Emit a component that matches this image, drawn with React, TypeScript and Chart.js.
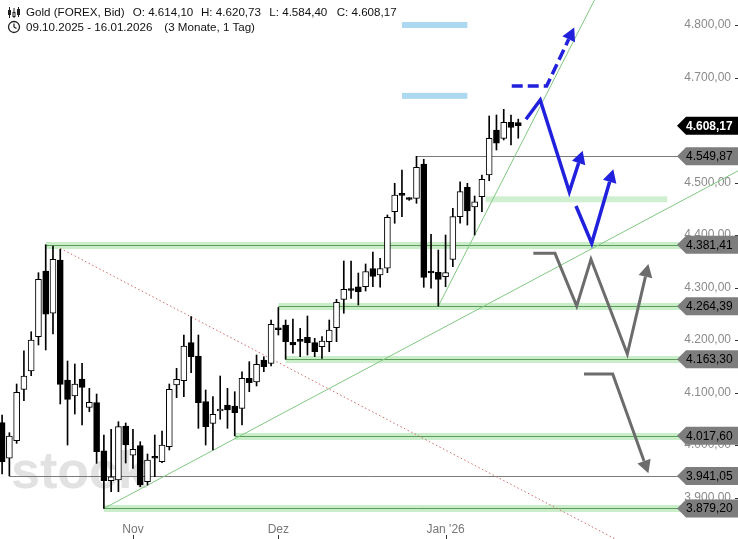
import React, { useEffect, useRef } from 'react';
import { Chart, registerables } from 'chart.js';
Chart.register(...registerables);

// ---- candle data (trading-day index 0..71) ----
const opens = [4042.5, 3974.7, 4008.2, 4106.1, 4141.0, 4206.3, 4331.4, 4250.9, 4352.4, 4123.8, 4093.3, 4125.7, 4071.8, 4080.6, 3989.1, 3932.0, 3933.3, 4036.2, 3980.4, 3998.7, 3930.1, 3977.7, 3968.2, 3996.8, 4114.3, 4122.5, 4194.9, 4169.5, 4082.5, 4041.3, 4064.8, 4076.2, 4074.3, 4069.9, 4127.0, 4120.0, 4161.9, 4155.6, 4222.3, 4228.6, 4195.6, 4201.3, 4205.1, 4194.9, 4187.2, 4196.8, 4223.4, 4277.5, 4297.1, 4301.5, 4301.5, 4336.2, 4323.8, 4336.6, 4444.4, 4479.4, 4469.9, 4469.9, 4535.2, 4330.1, 4329.0, 4320.6, 4353.7, 4434.9, 4490.9, 4453.3, 4472.9, 4514.3, 4600.0, 4584.2, 4614.7, 4614.10];
const highs = [4057.1, 4023.4, 4116.2, 4179.6, 4215.8, 4328.2, 4381.41, 4379.0, 4372.8, 4160.0, 4154.3, 4155.6, 4108.0, 4097.1, 4019.0, 4029.9, 4044.4, 4041.9, 4029.9, 4006.3, 3982.9, 4019.0, 4026.7, 4116.2, 4146.1, 4209.5, 4244.4, 4209.5, 4104.8, 4092.0, 4131.4, 4108.0, 4101.5, 4139.6, 4158.7, 4171.4, 4168.2, 4238.1, 4262.0, 4238.1, 4240.0, 4222.3, 4245.7, 4203.2, 4206.3, 4238.1, 4277.5, 4350.5, 4350.5, 4327.6, 4344.8, 4367.6, 4355.6, 4438.1, 4498.5, 4523.8, 4471.0, 4549.87, 4544.2, 4401.3, 4371.4, 4400.0, 4450.9, 4501.5, 4498.5, 4474.3, 4514.3, 4626.7, 4628.6, 4639.4, 4628.6, 4620.73];
const lows = [3945.0, 3941.05, 4003.2, 4084.4, 4132.0, 4190.5, 4181.0, 4211.4, 4078.1, 4000.0, 4059.0, 4038.1, 4063.4, 3965.1, 3879.2, 3911.0, 3911.0, 3965.7, 3955.6, 3920.6, 3923.8, 3939.6, 3966.3, 3990.5, 4090.1, 4092.0, 4137.7, 4031.8, 4000.0, 3990.5, 4049.0, 4031.8, 4017.6, 4038.1, 4101.5, 4112.4, 4139.6, 4150.5, 4209.5, 4163.3, 4174.7, 4168.2, 4171.4, 4168.2, 4165.1, 4177.7, 4196.8, 4250.9, 4279.4, 4266.7, 4293.3, 4301.5, 4300.4, 4328.2, 4422.3, 4434.9, 4466.0, 4460.4, 4300.4, 4298.5, 4264.39, 4301.5, 4339.6, 4422.3, 4419.0, 4400.0, 4444.4, 4503.4, 4561.9, 4581.0, 4571.4, 4584.40];
const closes = [3968.2, 4017.1, 4100.4, 4131.4, 4200.0, 4315.6, 4249.0, 4353.7, 4115.6, 4087.0, 4116.2, 4109.9, 4081.3, 3987.2, 3932.0, 3939.6, 4034.9, 4000.0, 3991.8, 3923.8, 3971.4, 3974.7, 4000.0, 4106.1, 4125.1, 4188.6, 4168.2, 4080.6, 4034.9, 4058.5, 4068.6, 4066.7, 4061.5, 4127.0, 4118.7, 4153.7, 4149.1, 4229.9, 4219.6, 4196.8, 4190.5, 4197.5, 4194.9, 4177.7, 4198.1, 4219.0, 4271.8, 4296.6, 4294.3, 4292.0, 4330.5, 4321.0, 4336.2, 4433.7, 4476.2, 4475.5, 4467.6, 4529.0, 4319.4, 4327.6, 4315.6, 4328.2, 4434.9, 4482.5, 4445.7, 4463.4, 4506.1, 4584.2, 4574.7, 4614.7, 4605.1, 4608.17];

// ---- axes ----
const yTicks = [3900, 4000, 4100, 4200, 4300, 4400, 4500, 4600, 4700, 4800];
const xTickIdx = [18, 38, 61];
const xTickLabels = ['Nov', 'Dez', "Jan '26"];

// ---- horizontal levels: price, start index, kind ----
const levelPrices = [4549.87, 4381.41, 4264.39, 4163.30, 4017.60, 3941.05, 3879.20];
const levelStart = [57, 6, 38, 39, 32, 1, 14];
const levelKind = ['line', 'band', 'band', 'band', 'band', 'line', 'band'];
const zonePrice = [4468];
const zoneFrom = [66.5];
const zoneTo = [91.5];
const lastPrice = 4608.17;

// ---- light blue target marks ----
const targetPrices = [4800, 4665];
const targetFrom = 55;
const targetTo = 64;

// ---- trend lines [idx, price] ----
const steepLine = [[60, 4264.39], [82, 4861.5]];
const longLine = [[14, 3879.2], [101.5, 4524.2]];
const dottedLine = [[8, 4374.6], [86, 3809]];

// ---- projections [idx, price] (last point = arrow tip) ----
const blueDashed = [[70.1, 4683.8], [74.9, 4683.8], [78.7, 4795.2]];
const blueA = [[72.06, 4620.4], [74.02, 4657.1], [78.02, 4482.5], [79.86, 4560.6]];
const blueB = [[78.94, 4455.2], [81.1, 4384.2], [84.07, 4525.1]];
const greyA = [[73.07, 4365.1], [76.05, 4365.1], [79.04, 4264.7], [81.0, 4353.7], [86.0, 4173.3], [88.9, 4344.8]];
const greyB = [[80.04, 4135.2], [83.99, 4135.2], [88.9, 3946.1]];

const fmt = (v: number) => {
  const [i, d] = v.toFixed(2).split('.');
  return i.replace(/\B(?=(\d{3})+(?!\d))/g, '.') + ',' + d;
};

const FONT = '"Liberation Sans", Arial, sans-serif';

function drawPath(ctx: CanvasRenderingContext2D, pts: number[][], X: any, Y: any, color: string, width: number, dash: number[] = [], arrow = true) {
  const p = pts.map(([i, v]) => [X(i), Y(v)]);
  const n = p.length;
  const tip = p[n - 1];
  const prev = p[n - 2];
  const dx = tip[0] - prev[0], dy = tip[1] - prev[1];
  const L = Math.hypot(dx, dy);
  const ux = dx / L, uy = dy / L;
  const al = 13, hw = 7;
  const base = [tip[0] - ux * al, tip[1] - uy * al];
  ctx.save();
  ctx.strokeStyle = color;
  ctx.lineWidth = width;
  ctx.lineJoin = 'miter';
  ctx.setLineDash(dash);
  ctx.beginPath();
  ctx.moveTo(p[0][0], p[0][1]);
  for (let k = 1; k < n - 1; k++) ctx.lineTo(p[k][0], p[k][1]);
  ctx.lineTo(arrow ? base[0] : tip[0], arrow ? base[1] : tip[1]);
  ctx.stroke();
  ctx.setLineDash([]);
  if (arrow) {
    ctx.fillStyle = color;
    ctx.beginPath();
    ctx.moveTo(tip[0], tip[1]);
    ctx.lineTo(base[0] - uy * hw, base[1] + ux * hw);
    ctx.lineTo(base[0] + uy * hw, base[1] - ux * hw);
    ctx.closePath();
    ctx.fill();
  }
  ctx.restore();
}

function drawTag(ctx: CanvasRenderingContext2D, cy: number, text: string, bg: string, fg: string, bold: boolean, W: number) {
  ctx.save();
  ctx.fillStyle = bg;
  ctx.beginPath();
  ctx.moveTo(677, cy);
  ctx.lineTo(686, cy - 9);
  ctx.lineTo(W, cy - 9);
  ctx.lineTo(W, cy + 9);
  ctx.lineTo(686, cy + 9);
  ctx.closePath();
  ctx.fill();
  ctx.fillStyle = fg;
  ctx.font = (bold ? 'bold ' : '') + '12px ' + FONT;
  ctx.textBaseline = 'middle';
  ctx.textAlign = 'left';
  ctx.fillText(text, 686, cy + 0.5);
  ctx.restore();
}

const overlayPlugin = {
  id: 'overlay',
  beforeDatasetsDraw(chart: any) {
    const { ctx, chartArea, scales } = chart;
    const X = (i: number) => scales.x.getPixelForValue(i);
    const Y = (v: number) => scales.y.getPixelForValue(v);
    ctx.save();
    // watermark
    ctx.font = 'bold 52px ' + FONT;
    ctx.fillStyle = '#e2e2e2';
    ctx.textBaseline = 'alphabetic';
    ctx.fillText('stock', 11, 488);
    // zone band
    zonePrice.forEach((p, k) => {
      ctx.fillStyle = 'rgba(150,220,150,0.45)';
      ctx.fillRect(X(zoneFrom[k]), Y(p) - 3, X(zoneTo[k]) - X(zoneFrom[k]), 6);
    });
    // levels
    levelPrices.forEach((p, k) => {
      const x0 = X(levelStart[k]);
      const y0 = Math.round(Y(p)) + 0.5;
      if (levelKind[k] === 'band') {
        ctx.fillStyle = 'rgba(150,220,150,0.5)';
        ctx.fillRect(x0, y0 - 3.5, chartArea.right - x0, 7);
        ctx.strokeStyle = '#5e9c5e';
      } else {
        ctx.strokeStyle = '#7a7a7a';
      }
      ctx.lineWidth = 1;
      ctx.beginPath();
      ctx.moveTo(x0, y0);
      ctx.lineTo(chartArea.right, y0);
      ctx.stroke();
    });
    // target marks
    targetPrices.forEach((p) => {
      ctx.fillStyle = '#acd9f1';
      ctx.fillRect(X(targetFrom), Y(p) - 3, X(targetTo) - X(targetFrom), 6);
    });
    // trend lines
    ctx.lineWidth = 1;
    ctx.strokeStyle = '#80c880';
    [steepLine, longLine].forEach((l) => {
      ctx.beginPath();
      ctx.moveTo(X(l[0][0]), Y(l[0][1]));
      ctx.lineTo(X(l[1][0]), Y(l[1][1]));
      ctx.stroke();
    });
    ctx.strokeStyle = '#d06a6a';
    ctx.setLineDash([1.5, 2.5]);
    ctx.beginPath();
    ctx.moveTo(X(dottedLine[0][0]), Y(dottedLine[0][1]));
    ctx.lineTo(X(dottedLine[1][0]), Y(dottedLine[1][1]));
    ctx.stroke();
    ctx.restore();
  },
  afterDraw(chart: any) {
    const { ctx, scales, width, height } = chart;
    const X = (i: number) => scales.x.getPixelForValue(i);
    const Y = (v: number) => scales.y.getPixelForValue(v);
    const blue = '#2121dd';
    const grey = '#6c6c6c';
    drawPath(ctx, blueDashed, X, Y, blue, 3.5, [11, 5]);
    drawPath(ctx, blueA, X, Y, blue, 3.5);
    drawPath(ctx, blueB, X, Y, blue, 3.5);
    drawPath(ctx, greyA, X, Y, grey, 3);
    drawPath(ctx, greyB, X, Y, grey, 3);
    // y tick dashes and x tick marks
    ctx.save();
    ctx.strokeStyle = '#333';
    ctx.lineWidth = 1;
    yTicks.forEach((v) => {
      const yy = Math.round(Y(v)) + 0.5;
      ctx.beginPath();
      ctx.moveTo(width - 3, yy);
      ctx.lineTo(width, yy);
      ctx.stroke();
    });
    xTickIdx.forEach((i) => {
      const xx = Math.round(X(i)) + 0.5;
      ctx.beginPath();
      ctx.moveTo(xx, height - 4);
      ctx.lineTo(xx, height);
      ctx.stroke();
    });
    ctx.restore();
    // tags
    levelPrices.forEach((p) => drawTag(ctx, Y(p), fmt(p), '#7d7d7d', '#000', false, width));
    drawTag(ctx, Y(lastPrice), fmt(lastPrice), '#000', '#fff', true, width);
  },
};

const PX = 7.27;
const Y_AXIS_W = 7;
const X_MIN = -2.1 / PX;
const X_MAX = X_MIN + (738 - Y_AXIS_W) / PX;

export default function App() {
  const ref = useRef<HTMLCanvasElement>(null);
  useEffect(() => {
    Chart.defaults.font.family = FONT;
    const idx = opens.map((_, i) => i);
    const up = idx.map((i) => closes[i] >= opens[i]);
    const chart = new Chart(ref.current!, {
      type: 'bar',
      data: {
        datasets: [
          {
            label: 'wick',
            data: idx.map((i) => ({ x: i, y: [lows[i], highs[i]] })) as any,
            backgroundColor: '#000',
            borderWidth: 0,
            barThickness: 1,
            grouped: false,
            order: 2,
          } as any,
          {
            label: 'body',
            data: idx.map((i) => ({ x: i, y: [opens[i], closes[i]] })) as any,
            backgroundColor: idx.map((i) => (up[i] ? '#fff' : '#000')),
            borderColor: '#000',
            borderWidth: 1,
            borderSkipped: false,
            barThickness: 6,
            minBarLength: 2,
            grouped: false,
            order: 1,
          } as any,
        ],
      },
      options: {
        responsive: false,
        animation: false,
        events: [],
        layout: { padding: 0 },
        plugins: { legend: { display: false }, tooltip: { enabled: false } },
        scales: {
          x: {
            type: 'linear',
            min: X_MIN,
            max: X_MAX,
            offset: false,
            afterBuildTicks: (s: any) => {
              s.ticks = xTickIdx.map((v) => ({ value: v }));
            },
            afterFit: (s: any) => {
              s.height = 20;
              s.paddingLeft = 0;
              s.paddingRight = 0;
            },
            ticks: {
              callback: (v: any) => xTickLabels[xTickIdx.indexOf(Number(v))] ?? '',
              color: '#777',
              font: { size: 12 },
              padding: 3,
              maxRotation: 0,
              autoSkip: false,
            },
            grid: { display: false, drawTicks: false },
            border: { display: false },
          },
          y: {
            type: 'linear',
            position: 'right',
            min: 3859.05,
            max: 4847.62,
            afterBuildTicks: (s: any) => {
              s.ticks = yTicks.map((v) => ({ value: v }));
            },
            afterFit: (s: any) => {
              s.width = Y_AXIS_W;
              s.paddingTop = 0;
              s.paddingBottom = 0;
            },
            ticks: {
              mirror: true,
              padding: 0,
              color: '#8a8a8a',
              font: { size: 12 },
              callback: (v: any) => fmt(Number(v)),
            },
            grid: { display: false, drawTicks: false },
            border: { display: false },
          },
        },
      } as any,
      plugins: [overlayPlugin],
    });
    return () => chart.destroy();
  }, []);

  const txt: React.CSSProperties = {
    position: 'absolute',
    fontFamily: FONT,
    fontSize: '11.6px',
    lineHeight: '14px',
    color: '#111',
    whiteSpace: 'nowrap',
  };
  return (
    <div style={{ position: 'fixed', left: 0, top: 0, width: 738, height: 539, background: '#fff', overflow: 'hidden' }}>
      <canvas ref={ref} width={738} height={539} style={{ position: 'absolute', left: 0, top: 0 }} />
      <svg style={{ position: 'absolute', left: 7, top: 6 }} width={14} height={13} viewBox="0 0 14 13">
        <g stroke="#222" strokeWidth={1} fill="none">
          <line x1={2.5} y1={1} x2={2.5} y2={12} />
          <rect x={1.5} y={4.5} width={2} height={4} fill="#222" />
          <line x1={7} y1={2} x2={7} y2={12} />
          <rect x={6} y={6.5} width={2} height={4} fill="#fff" />
          <line x1={11.5} y1={1} x2={11.5} y2={11} />
          <rect x={10.5} y={3.5} width={2} height={5} fill="#222" />
        </g>
      </svg>
      <svg style={{ position: 'absolute', left: 7, top: 20 }} width={14} height={14} viewBox="0 0 14 14">
        <circle cx={7} cy={7} r={5.5} stroke="#222" strokeWidth={1.3} fill="none" />
        <polyline points="7,3.5 7,7 9.5,8.5" stroke="#222" strokeWidth={1.2} fill="none" />
      </svg>
      <span style={{ ...txt, left: 26, top: 5 }}>Gold (FOREX, Bid)</span>
      <span style={{ ...txt, left: 132.7, top: 5 }}>O: 4.614,10</span>
      <span style={{ ...txt, left: 201, top: 5 }}>H: 4.620,73</span>
      <span style={{ ...txt, left: 269.3, top: 5 }}>L: 4.584,40</span>
      <span style={{ ...txt, left: 336.7, top: 5 }}>C: 4.608,17</span>
      <span style={{ ...txt, left: 26, top: 20 }}>09.10.2025 - 16.01.2026</span>
      <span style={{ ...txt, left: 164.3, top: 20 }}>(3 Monate, 1 Tag)</span>
    </div>
  );
}
